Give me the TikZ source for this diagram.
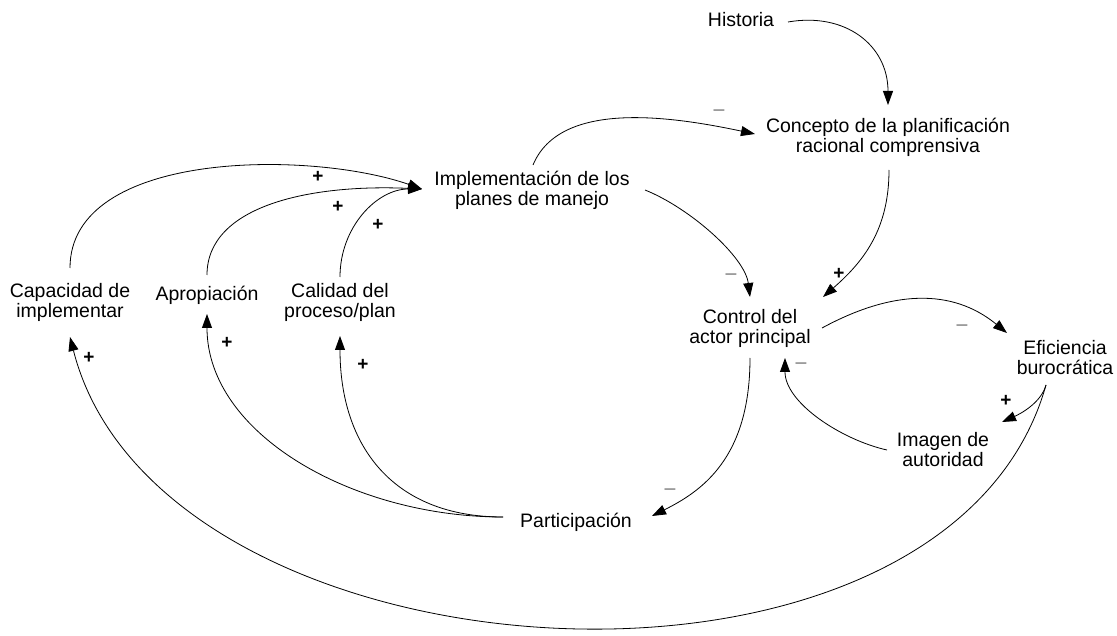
\documentclass[tikz,border=0pt]{standalone}
\usepackage{fontspec}
\setmainfont{Liberation Sans}
\usetikzlibrary{arrows.meta,calc}
\begin{document}
\begin{tikzpicture}[x=1pt,y=-1pt,
  var/.style={inner sep=0pt,outer sep=0pt,align=center,font=\fontsize{19.5}{20}\selectfont},
  link/.style={line width=0.8pt,-{Triangle[length=14pt,width=10pt]}},
  plussign/.style={inner sep=0pt,font=\fontsize{19}{19}\selectfont\bfseries},
  minussign/.style={inner sep=0pt,text=black!55,font=\fontsize{19.5}{20}\selectfont}]
\useasboundingbox (0,0) rectangle (1117,636);
\node[var] (hist) at (741,20) {Historia};
\node[var] (conc) at (888,137) {Concepto de la planificación\\racional comprensiva};
\node[var] (impl) at (532,190) {Implementación de los\\planes de manejo};
\node[var] (cap) at (70,302) {Capacidad de\\implementar};
\node[var] (apro) at (207,295) {Apropiación};
\node[var] (cal) at (340,302) {Calidad del\\proceso/plan};
\node[var] (ctrl) at (750,328) {Control del\\actor principal};
\node[var] (efic) at (1065,358) {Eficiencia\\burocrática};
\node[var] (img) at (943,450) {Imagen de\\autoridad};
\node[var] (part) at (576,522) {Participación};

\draw[link] ($(hist)+(47,2)$) .. controls +(57,-10) and +(0,-60) .. ($(conc)+(0,-32)$);
\draw[link] ($(impl)+(1,-25)$) .. controls +(27,-65) and +(-85,-18) .. ($(conc)+(-133,-3)$);
\draw[link] ($(conc)+(1,33)$) .. controls +(0,60) and +(40,-35) .. ($(ctrl)+(73,-31)$);
\draw[link] ($(impl)+(113,0)$) .. controls +(45,18) and +(-5,-40) .. ($(ctrl)+(0,-31)$);
\draw[link] ($(ctrl)+(72,0)$) .. controls +(70,-38) and +(-55,-45) .. ($(efic)+(-58,-25)$);
\draw[link] ($(efic)+(-19,27)$) .. controls +(-5,18) and +(18,-8) .. ($(img)+(59,-28)$);
\draw[link] ($(img)+(-56,0)$) .. controls +(-45,-10) and +(0,45) .. ($(ctrl)+(35,30)$);
\draw[link] ($(ctrl)+(0,30)$) .. controls +(0,100) and +(50,-25) .. ($(part)+(76,-6)$);
\draw[link] ($(efic)+(-19,27)$) .. controls +(-100,355) and +(90,353) .. ($(cap)+(0,35)$);
\draw[link] ($(part)+(-73,-5)$) .. controls +(-150,0) and +(0,120) .. ($(apro)+(0,19)$);
\draw[link] ($(part)+(-73,-5)$) .. controls +(-110,0) and +(0,110) .. ($(cal)+(0,34)$);
\draw[link] ($(cap)+(0,-34)$) .. controls +(0,-118) and +(-112,-39) .. ($(impl)+(-110,-1)$);
\draw[link] ($(apro)+(0,-20)$) .. controls +(0,-70) and +(-110,-5) .. ($(impl)+(-110,-1)$);
\draw[link] ($(cal)+(0,-25)$) .. controls +(0,-50) and +(-45,0) .. ($(impl)+(-110,-1)$);

\node[minussign] (s1) at (719,113) {–};
\node[plussign] (s2) at (839,274) {+};
\node[minussign] (s3) at (731,277) {–};
\node[minussign] (s4) at (962,328) {–};
\node[plussign] (s5) at (1006,401) {+};
\node[minussign] (s6) at (801,366) {–};
\node[minussign] (s7) at (670,492) {–};
\node[plussign] (s8) at (89,358) {+};
\node[plussign] (s9) at (227,343) {+};
\node[plussign] (s10) at (363,365) {+};
\node[plussign] (s11) at (318,177) {+};
\node[plussign] (s12) at (338,207) {+};
\node[plussign] (s13) at (378,225) {+};
\end{tikzpicture}
\end{document}
